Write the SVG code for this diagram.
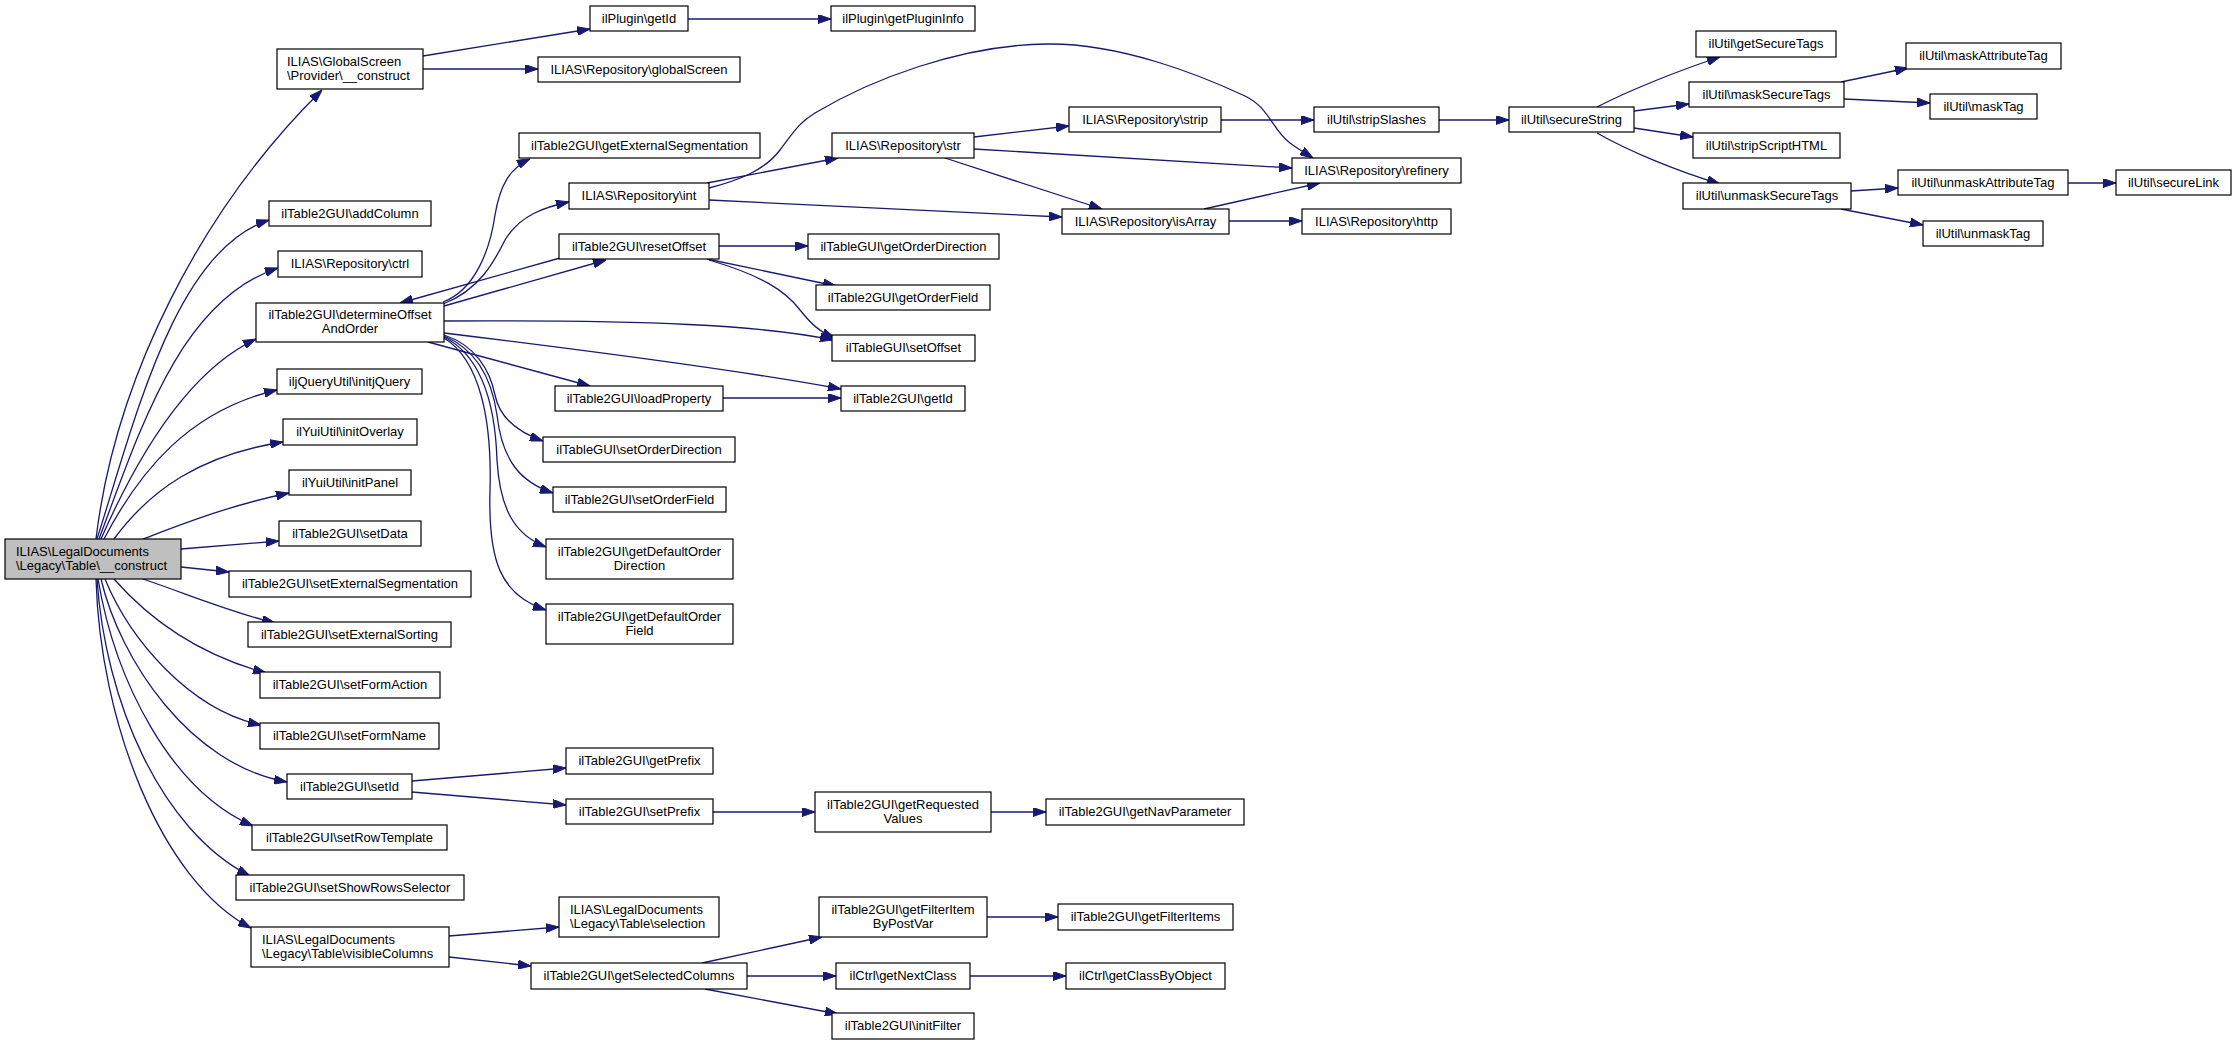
<svg xmlns="http://www.w3.org/2000/svg" width="2236" height="1045" viewBox="0 0 2236 1045">
<style>
.node rect{fill:#fff;stroke:#000;stroke-width:1.2}
.node.main rect{fill:#bfbfbf}
.node text{font-family:"Liberation Sans",Arial,Helvetica,sans-serif;font-size:13px;fill:#000}
.c{text-anchor:middle}
.edges path{fill:none;stroke:#191970;stroke-width:1.3;marker-end:url(#ah)}
</style>
<defs>
<marker id="ah" markerWidth="13" markerHeight="9" refX="13" refY="4.5" orient="auto" markerUnits="userSpaceOnUse">
<path d="M0,0 L13,4.5 L0,9 z" fill="#191970" stroke="#191970" stroke-width="1"/>
</marker>
</defs>
<rect x="0" y="0" width="2236" height="1045" fill="#fff"/>
<g class="edges">
<path d="M96,539 C115,380 200,210 322,90"/>
<path d="M97,539 C135,420 175,250 269,220"/>
<path d="M99,539 C140,430 180,300 278,268"/>
<path d="M101,539 C140,450 190,370 256,339"/>
<path d="M104,539 C140,470 190,410 277,390"/>
<path d="M114,539 C150,490 200,455 283,442"/>
<path d="M143,539 C180,525 230,505 289,493"/>
<path d="M181,549 L279,541"/>
<path d="M181,567 L229,572"/>
<path d="M143,579 C190,595 230,612 275,623"/>
<path d="M114,579 C150,620 200,655 266,673"/>
<path d="M105,579 C130,640 190,710 261,725"/>
<path d="M101,579 C120,660 190,765 287,782"/>
<path d="M98,579 C115,680 170,790 253,826"/>
<path d="M97,579 C105,700 160,830 250,876"/>
<path d="M96,579 C100,720 160,880 251,928"/>
<path d="M423,56 L590,29"/>
<path d="M423,69 L538,69"/>
<path d="M688,19 L831,19"/>
<path d="M443,302 C475,290 490,250 495,215 C500,185 510,168 530,159"/>
<path d="M443,304 C480,290 495,260 505,240 C520,215 545,207 569,202"/>
<path d="M560,258 L400,303"/>
<path d="M444,306 L606,260"/>
<path d="M444,321 C650,320 760,325 833,340"/>
<path d="M444,333 C600,352 750,372 841,389"/>
<path d="M428,342 L590,386"/>
<path d="M444,335 C475,345 490,370 495,395 C500,420 520,433 543,441"/>
<path d="M444,336 C478,350 492,380 497,415 C502,460 520,482 553,493"/>
<path d="M444,337 C480,355 495,400 497,460 C500,510 515,535 546,547"/>
<path d="M444,338 C480,360 492,420 490,490 C488,560 500,595 546,610"/>
<path d="M719,246 L808,246"/>
<path d="M707,259 L836,286"/>
<path d="M709,260 C760,275 785,290 800,310 C812,325 820,332 835,338"/>
<path d="M709,188 C740,180 765,170 780,150 C795,130 800,122 815,113 C870,80 960,45 1047,44 C1120,43 1200,75 1245,96 C1270,108 1272,130 1290,143 C1298,149 1305,153 1313,158"/>
<path d="M707,183 L838,158"/>
<path d="M709,200 L1062,217"/>
<path d="M974,137 L1069,126"/>
<path d="M974,149 L1292,168"/>
<path d="M945,158 L1102,209"/>
<path d="M1221,120 L1314,120"/>
<path d="M1439,120 L1509,120"/>
<path d="M1204,209 L1320,183"/>
<path d="M1229,221 L1302,221"/>
<path d="M1597,107 C1630,90 1680,70 1720,57"/>
<path d="M1634,111 L1689,104"/>
<path d="M1634,128 L1693,137"/>
<path d="M1597,133 C1630,152 1680,172 1720,184"/>
<path d="M1841,82 L1908,68"/>
<path d="M1844,99 L1930,103"/>
<path d="M1851,191 L1898,188"/>
<path d="M1841,209 L1923,225"/>
<path d="M2068,183 L2116,183"/>
<path d="M723,398 L841,398"/>
<path d="M412,781 L566,768"/>
<path d="M412,792 L566,805"/>
<path d="M713,812 L815,812"/>
<path d="M991,812 L1046,812"/>
<path d="M449,936 L559,927"/>
<path d="M449,957 L531,966"/>
<path d="M702,963 L822,937"/>
<path d="M747,976 L836,976"/>
<path d="M705,989 L838,1014"/>
<path d="M987,917 L1058,917"/>
<path d="M970,976 L1066,976"/>
</g>
<g id="n0" class="node main"><rect x="5" y="539" width="176" height="40"/><text x="16" y="556">ILIAS\LegalDocuments</text><text x="16" y="570">\Legacy\Table\__construct</text></g>
<g id="n1" class="node"><rect x="277" y="49" width="146" height="40"/><text x="287" y="66">ILIAS\GlobalScreen</text><text x="287" y="80">\Provider\__construct</text></g>
<g id="n2" class="node"><rect x="269" y="201" width="162" height="25"/><text class="c" x="350" y="218">ilTable2GUI\addColumn</text></g>
<g id="n3" class="node"><rect x="278" y="251" width="144" height="26"/><text class="c" x="350" y="268">ILIAS\Repository\ctrl</text></g>
<g id="n4" class="node"><rect x="256" y="303" width="188" height="39"/><text class="c" x="350" y="319">ilTable2GUI\determineOffset</text><text class="c" x="350" y="333">AndOrder</text></g>
<g id="n5" class="node"><rect x="277" y="369" width="145" height="25"/><text class="c" x="349.5" y="386">iljQueryUtil\initjQuery</text></g>
<g id="n6" class="node"><rect x="283" y="419" width="134" height="26"/><text class="c" x="350" y="436">ilYuiUtil\initOverlay</text></g>
<g id="n7" class="node"><rect x="289" y="470" width="122" height="25"/><text class="c" x="350" y="487">ilYuiUtil\initPanel</text></g>
<g id="n8" class="node"><rect x="279" y="521" width="142" height="25"/><text class="c" x="350" y="538">ilTable2GUI\setData</text></g>
<g id="n9" class="node"><rect x="229" y="571" width="242" height="26"/><text class="c" x="350" y="588">ilTable2GUI\setExternalSegmentation</text></g>
<g id="n10" class="node"><rect x="248" y="622" width="203" height="25"/><text class="c" x="349.5" y="639">ilTable2GUI\setExternalSorting</text></g>
<g id="n11" class="node"><rect x="260" y="672" width="180" height="26"/><text class="c" x="350" y="689">ilTable2GUI\setFormAction</text></g>
<g id="n12" class="node"><rect x="260" y="723" width="179" height="26"/><text class="c" x="349.5" y="740">ilTable2GUI\setFormName</text></g>
<g id="n13" class="node"><rect x="287" y="774" width="125" height="25"/><text class="c" x="349.5" y="791">ilTable2GUI\setId</text></g>
<g id="n14" class="node"><rect x="252" y="825" width="195" height="25"/><text class="c" x="349.5" y="842">ilTable2GUI\setRowTemplate</text></g>
<g id="n15" class="node"><rect x="236" y="875" width="228" height="25"/><text class="c" x="350" y="892">ilTable2GUI\setShowRowsSelector</text></g>
<g id="n16" class="node"><rect x="251" y="927" width="198" height="40"/><text x="262" y="944">ILIAS\LegalDocuments</text><text x="262" y="958">\Legacy\Table\visibleColumns</text></g>
<g id="n17" class="node"><rect x="590" y="6" width="98" height="25"/><text class="c" x="639" y="23">ilPlugin\getId</text></g>
<g id="n18" class="node"><rect x="831" y="6" width="144" height="25"/><text class="c" x="903" y="23">ilPlugin\getPluginInfo</text></g>
<g id="n19" class="node"><rect x="538" y="57" width="202" height="25"/><text class="c" x="639" y="74">ILIAS\Repository\globalScreen</text></g>
<g id="n20" class="node"><rect x="519" y="133" width="241" height="25"/><text class="c" x="639.5" y="150">ilTable2GUI\getExternalSegmentation</text></g>
<g id="n21" class="node"><rect x="569" y="183" width="140" height="26"/><text class="c" x="639" y="200">ILIAS\Repository\int</text></g>
<g id="n22" class="node"><rect x="559" y="234" width="160" height="25"/><text class="c" x="639" y="251">ilTable2GUI\resetOffset</text></g>
<g id="n23" class="node"><rect x="808" y="234" width="191" height="25"/><text class="c" x="903.5" y="251">ilTableGUI\getOrderDirection</text></g>
<g id="n24" class="node"><rect x="816" y="285" width="174" height="25"/><text class="c" x="903" y="302">ilTable2GUI\getOrderField</text></g>
<g id="n25" class="node"><rect x="832" y="335" width="143" height="26"/><text class="c" x="903.5" y="352">ilTableGUI\setOffset</text></g>
<g id="n26" class="node"><rect x="555" y="386" width="168" height="25"/><text class="c" x="639" y="403">ilTable2GUI\loadProperty</text></g>
<g id="n27" class="node"><rect x="841" y="386" width="124" height="25"/><text class="c" x="903" y="403">ilTable2GUI\getId</text></g>
<g id="n28" class="node"><rect x="543" y="437" width="192" height="25"/><text class="c" x="639" y="454">ilTableGUI\setOrderDirection</text></g>
<g id="n29" class="node"><rect x="553" y="487" width="173" height="25"/><text class="c" x="639.5" y="504">ilTable2GUI\setOrderField</text></g>
<g id="n30" class="node"><rect x="546" y="539" width="187" height="40"/><text class="c" x="639.5" y="556">ilTable2GUI\getDefaultOrder</text><text class="c" x="639.5" y="570">Direction</text></g>
<g id="n31" class="node"><rect x="546" y="604" width="187" height="40"/><text class="c" x="639.5" y="621">ilTable2GUI\getDefaultOrder</text><text class="c" x="639.5" y="635">Field</text></g>
<g id="n32" class="node"><rect x="566" y="748" width="147" height="26"/><text class="c" x="639.5" y="765">ilTable2GUI\getPrefix</text></g>
<g id="n33" class="node"><rect x="566" y="799" width="147" height="25"/><text class="c" x="639.5" y="816">ilTable2GUI\setPrefix</text></g>
<g id="n34" class="node"><rect x="815" y="792" width="176" height="40"/><text class="c" x="903" y="809">ilTable2GUI\getRequested</text><text class="c" x="903" y="823">Values</text></g>
<g id="n35" class="node"><rect x="1046" y="799" width="198" height="26"/><text class="c" x="1145" y="816">ilTable2GUI\getNavParameter</text></g>
<g id="n36" class="node"><rect x="559" y="897" width="160" height="40"/><text x="570" y="914">ILIAS\LegalDocuments</text><text x="570" y="928">\Legacy\Table\selection</text></g>
<g id="n37" class="node"><rect x="819" y="897" width="168" height="40"/><text class="c" x="903" y="914">ilTable2GUI\getFilterItem</text><text class="c" x="903" y="928">ByPostVar</text></g>
<g id="n38" class="node"><rect x="531" y="963" width="216" height="26"/><text class="c" x="639" y="980">ilTable2GUI\getSelectedColumns</text></g>
<g id="n39" class="node"><rect x="836" y="963" width="134" height="26"/><text class="c" x="903" y="980">ilCtrl\getNextClass</text></g>
<g id="n40" class="node"><rect x="832" y="1013" width="142" height="26"/><text class="c" x="903" y="1030">ilTable2GUI\initFilter</text></g>
<g id="n41" class="node"><rect x="1058" y="904" width="175" height="26"/><text class="c" x="1145.5" y="921">ilTable2GUI\getFilterItems</text></g>
<g id="n42" class="node"><rect x="1066" y="963" width="159" height="26"/><text class="c" x="1145.5" y="980">ilCtrl\getClassByObject</text></g>
<g id="n43" class="node"><rect x="832" y="133" width="142" height="25"/><text class="c" x="903" y="150">ILIAS\Repository\str</text></g>
<g id="n44" class="node"><rect x="1069" y="107" width="152" height="25"/><text class="c" x="1145" y="124">ILIAS\Repository\strip</text></g>
<g id="n45" class="node"><rect x="1314" y="107" width="125" height="25"/><text class="c" x="1376.5" y="124">ilUtil\stripSlashes</text></g>
<g id="n46" class="node"><rect x="1292" y="158" width="169" height="25"/><text class="c" x="1376.5" y="175">ILIAS\Repository\refinery</text></g>
<g id="n47" class="node"><rect x="1062" y="209" width="167" height="25"/><text class="c" x="1145.5" y="226">ILIAS\Repository\isArray</text></g>
<g id="n48" class="node"><rect x="1302" y="209" width="149" height="25"/><text class="c" x="1376.5" y="226">ILIAS\Repository\http</text></g>
<g id="n49" class="node"><rect x="1509" y="107" width="125" height="25"/><text class="c" x="1571.5" y="124">ilUtil\secureString</text></g>
<g id="n50" class="node"><rect x="1696" y="31" width="140" height="26"/><text class="c" x="1766" y="48">ilUtil\getSecureTags</text></g>
<g id="n51" class="node"><rect x="1689" y="82" width="155" height="25"/><text class="c" x="1766.5" y="99">ilUtil\maskSecureTags</text></g>
<g id="n52" class="node"><rect x="1693" y="133" width="147" height="25"/><text class="c" x="1766.5" y="150">ilUtil\stripScriptHTML</text></g>
<g id="n53" class="node"><rect x="1683" y="183" width="168" height="26"/><text class="c" x="1767" y="200">ilUtil\unmaskSecureTags</text></g>
<g id="n54" class="node"><rect x="1906" y="43" width="155" height="26"/><text class="c" x="1983.5" y="60">ilUtil\maskAttributeTag</text></g>
<g id="n55" class="node"><rect x="1930" y="94" width="107" height="25"/><text class="c" x="1983.5" y="111">ilUtil\maskTag</text></g>
<g id="n56" class="node"><rect x="1898" y="170" width="170" height="25"/><text class="c" x="1983" y="187">ilUtil\unmaskAttributeTag</text></g>
<g id="n57" class="node"><rect x="2116" y="170" width="115" height="25"/><text class="c" x="2173.5" y="187">ilUtil\secureLink</text></g>
<g id="n58" class="node"><rect x="1923" y="221" width="120" height="25"/><text class="c" x="1983" y="238">ilUtil\unmaskTag</text></g>
</svg>
